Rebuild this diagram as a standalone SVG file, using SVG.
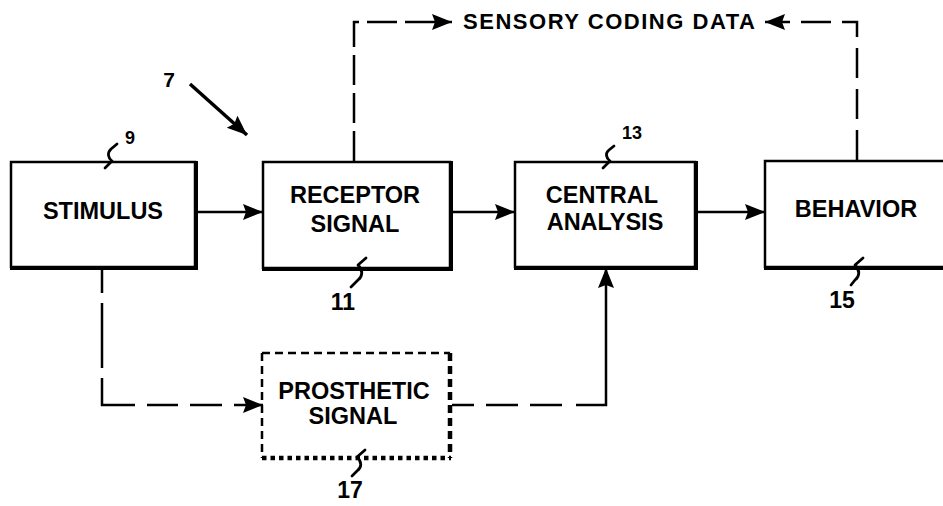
<svg xmlns="http://www.w3.org/2000/svg" width="943" height="506" viewBox="0 0 943 506">
<style>
  .box { fill: #fff; stroke: #000; stroke-width: 2.5; }
  .shadow { stroke: #000; stroke-width: 4; fill: none; stroke-linecap: square; }
  .lbl { font-family: "Liberation Sans", Arial, sans-serif; font-size: 23.5px; font-weight: bold; fill: #000; text-anchor: middle; }
  .num { font-family: "Liberation Sans", Arial, sans-serif; font-weight: bold; fill: #000; text-anchor: middle; }
  .solid { stroke: #000; stroke-width: 2.5; fill: none; }
  .dash { stroke: #000; stroke-width: 2.5; fill: none; }
  .sq { stroke: #000; stroke-width: 2.8; fill: none; stroke-linecap: round; stroke-linejoin: round; }
</style>
<defs>
  <marker id="ah" markerUnits="userSpaceOnUse" markerWidth="22" markerHeight="18" refX="20" refY="8" orient="auto">
    <path d="M0,0 L20,8 L0,16 L3,8 Z" fill="#000" stroke="none"/>
  </marker>
</defs>

<g id="stimulus">
  <rect class="box" x="11" y="162" width="184" height="105"/>
  <path class="shadow" d="M196,163 V268 H12"/>
  <text class="lbl" x="103" y="219">STIMULUS</text>
  <path class="sq" d="M105,168 L112,161 C108,158 107,153 111,149 L117,144"/>
  <text class="num" x="130" y="144" font-size="18">9</text>
</g>

<g id="receptor">
  <rect class="box" x="263" y="162" width="187" height="106"/>
  <path class="shadow" d="M451,163 V269 H264"/>
  <text class="lbl" x="355" y="203">RECEPTOR</text>
  <text class="lbl" x="355" y="232">SIGNAL</text>
  <path class="sq" d="M366,258 L358,265 C363,270 363,276 358,280 L351,287"/>
  <text class="num" x="343" y="310" font-size="23">11</text>
</g>

<g id="central">
  <rect class="box" x="515" y="162" width="180" height="105"/>
  <path class="shadow" d="M696,163 V268 H516"/>
  <text class="lbl" x="602" y="203">CENTRAL</text>
  <text class="lbl" x="605" y="230">ANALYSIS</text>
  <path class="sq" d="M603,168 L610,161 C606,158 605,153 609,150 L614,146"/>
  <text class="num" x="632" y="139" font-size="18">13</text>
</g>

<g id="behavior">
  <rect class="box" x="765" y="161" width="200" height="106"/>
  <path class="shadow" d="M766,268 H950"/>
  <text class="lbl" x="856" y="217">BEHAVIOR</text>
  <path class="sq" d="M863,258 L855,265 C860,270 860,276 855,280 L851,285"/>
  <text class="num" x="842" y="308" font-size="23">15</text>
</g>

<g id="prosthetic">
  <rect x="262" y="353" width="188" height="105" fill="#fff" stroke="none"/>
  <path d="M262,353 H450" stroke="#000" stroke-width="2.5" fill="none" stroke-dasharray="8 5"/>
  <path d="M262,353 V458" stroke="#000" stroke-width="2.5" fill="none" stroke-dasharray="8 5"/>
  <path d="M450,353 V458" stroke="#000" stroke-width="4.5" fill="none" stroke-dasharray="8 5"/>
  <path d="M262,458 H451" stroke="#000" stroke-width="4.5" fill="none" stroke-dasharray="4.5 4"/>
  <text class="lbl" x="354" y="399">PROSTHETIC</text>
  <text class="lbl" x="353" y="424">SIGNAL</text>
  <path class="sq" d="M365,450 L357,457 C362,462 362,467 357,471 L352,476"/>
  <text class="num" x="350" y="498" font-size="23">17</text>
</g>

<g id="sensory">
  <text x="463" y="29" font-family="Liberation Sans, Arial, sans-serif" font-weight="bold" font-size="22" textLength="292" lengthAdjust="spacing">SENSORY CODING DATA</text>
</g>

<g id="label7">
  <text class="num" x="169" y="87" font-size="21">7</text>
  <line x1="190" y1="84" x2="247" y2="135" stroke="#000" stroke-width="3.5" marker-end="url(#ah)"/>
</g>

<g id="connectors">
  <line class="solid" x1="197" y1="212" x2="263" y2="212" marker-end="url(#ah)"/>
  <line class="solid" x1="452" y1="212" x2="515" y2="212" marker-end="url(#ah)"/>
  <line class="solid" x1="697" y1="212" x2="765" y2="212" marker-end="url(#ah)"/>
  <path class="dash" d="M354,161 V22 H452" stroke-dasharray="30 8" marker-end="url(#ah)"/>
  <path class="dash" d="M857,160 V22 H765" stroke-dasharray="30 11" marker-end="url(#ah)"/>
  <path class="dash" d="M102,269 V405 H263" stroke-dasharray="24 10 65 10 60 12 31 12 32 12 30 12 30" marker-end="url(#ah)"/>
  <path class="dash" d="M452,405 H606 V268" stroke-dasharray="22 12 32 12 32 14 175" marker-end="url(#ah)"/>
</g>
</svg>
